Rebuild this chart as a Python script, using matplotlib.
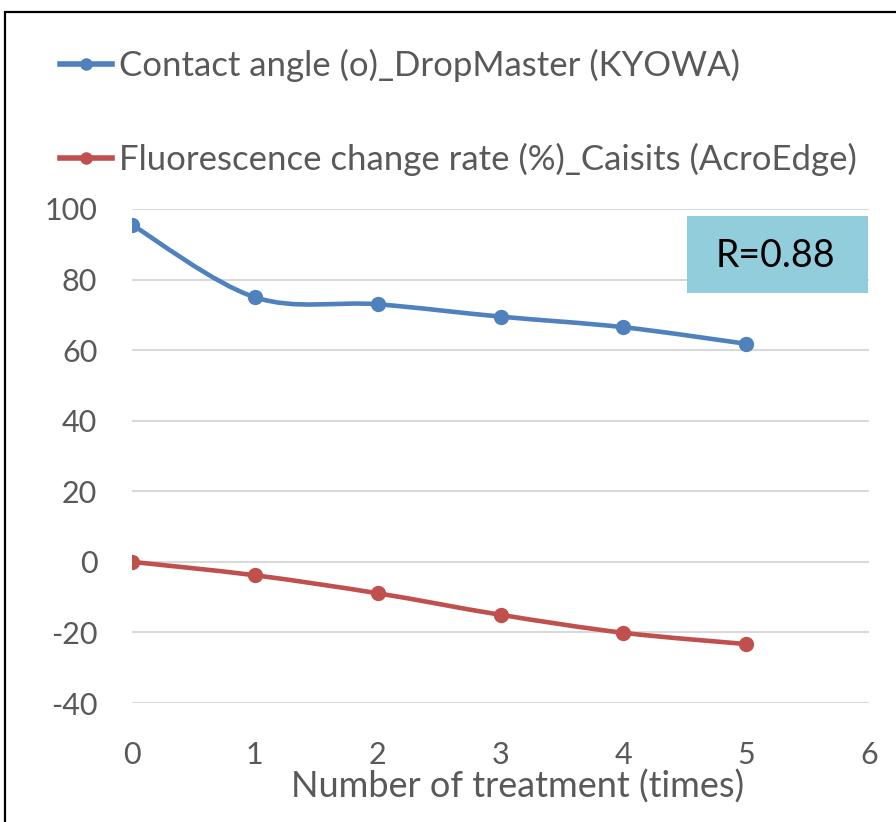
import numpy as np
import matplotlib
matplotlib.use("Agg")
import matplotlib.pyplot as plt
from matplotlib.path import Path
from matplotlib.patches import PathPatch, Rectangle
from matplotlib.lines import Line2D

# data
treatments = [0, 1, 2, 3, 4, 5]
contact_angle = [95.5, 75.0, 73.0, 69.5, 66.5, 61.8]
fluor_change = [0.0, -3.8, -8.9, -15.0, -20.1, -23.3]
labels = ["Contact angle (o)_DropMaster (KYOWA)",
          "Fluorescence change rate (%)_Caisits (AcroEdge)"]
colors = ["#4F81BD", "#C0504D"]
gray = "#595959"

plt.rcParams['font.family'] = ['Lato', 'DejaVu Sans']
plt.rcParams['axes.unicode_minus'] = False


def smooth_path(xs, ys, t=1/6):		# excel style bezier smoothing
    xs = np.asarray(xs, float)
    ys = np.asarray(ys, float)
    n = len(xs)
    verts = [(xs[0], ys[0])]
    codes = [Path.MOVETO]
    for i in range(n-1):
        i0 = max(i-1, 0)
        i3 = min(i+2, n-1)
        c1 = (xs[i] + (xs[i+1]-xs[i0])*t, ys[i] + (ys[i+1]-ys[i0])*t)
        c2 = (xs[i+1] - (xs[i3]-xs[i])*t, ys[i+1] - (ys[i3]-ys[i])*t)
        verts += [c1, c2, (xs[i+1], ys[i+1])]
        codes += [Path.CURVE4]*3
    return Path(verts, codes)


fig = plt.figure(figsize=(8.96, 8.22), dpi=100)
ax = fig.add_axes([132/896, 1-703/822, (869-132)/896, (703-209)/822])

for ys, c in zip([contact_angle, fluor_change], colors):
    ax.add_patch(PathPatch(smooth_path(treatments, ys), fill=False,
                           edgecolor=c, lw=3.3, capstyle='round', zorder=3))
    ax.plot(treatments, ys, 'o', color=c, ms=10, zorder=4)

ax.set_xlim(0, 6)
ax.set_ylim(-40, 100)
ax.set_xticks(range(0, 7))
ax.set_yticks(range(-40, 101, 20))
ax.grid(axis='y', color='#D9D9D9', lw=1.5)
ax.set_axisbelow(True)
for s in ax.spines.values():
    s.set_visible(False)
ax.tick_params(length=0, colors=gray, labelsize=22)
ax.tick_params(axis='x', pad=27)
ax.tick_params(axis='y', pad=25)
ax.set_xlabel("Number of treatment (times)", fontsize=26, color=gray)
ax.xaxis.set_label_coords((518-132)/737, -(770-703)/494)

# R box
ax.add_patch(Rectangle(((687-132)/737, (703-293)/494), (868-687)/737, (293-216)/494,
                       transform=ax.transAxes, facecolor='#92CDDC', edgecolor='none',
                       zorder=5))
ax.text((775-132)/737, (703-256)/494, "R=0.88", transform=ax.transAxes,
        ha='center', va='center', fontsize=27, color='black', zorder=6)

handles = [Line2D([], [], color=c, lw=4, marker='o', ms=8) for c in colors]
leg = fig.legend(handles, labels, loc='upper left', bbox_to_anchor=(46/896, 1-35/822),
                 frameon=False, fontsize=25, labelspacing=1.75, handlelength=1.5,
                 handletextpad=0.2, borderaxespad=0)
for t in leg.get_texts():
    t.set_color(gray)

fig.add_artist(Rectangle((5/896, -0.1), 1.2, 1-12/822+0.1, transform=fig.transFigure,
                         fill=False, edgecolor='black', lw=1.6))

fig.savefig("out.png", dpi=100)
